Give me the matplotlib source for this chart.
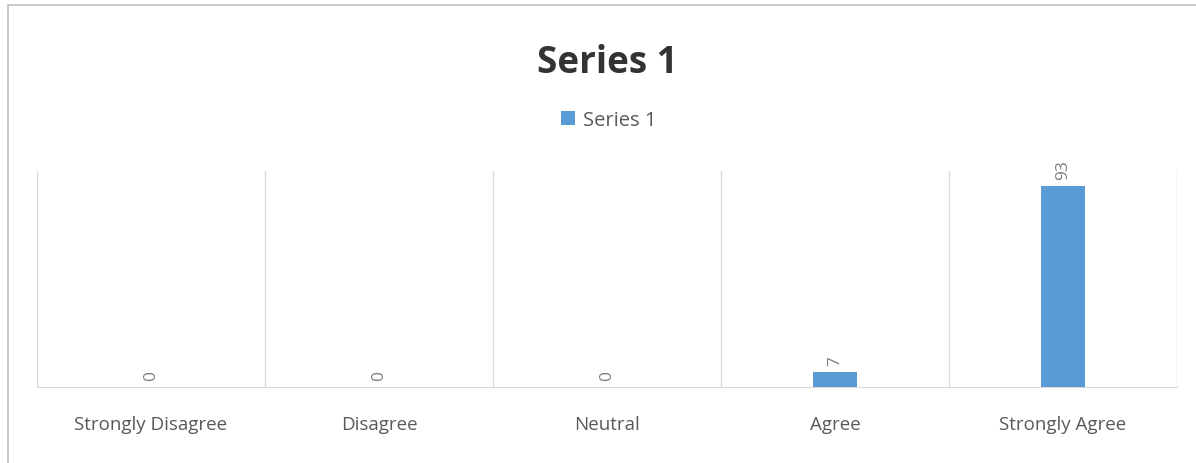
import numpy as np
import matplotlib.pyplot as plt
from matplotlib.patches import Rectangle

categories = ["Strongly Disagree", "Disagree", "Neutral", "Agree", "Strongly Agree"]
values = [0, 0, 0, 7, 93]
series_name = "Series 1"

bar_color = "#5B9BD5"
grid_color = "#D9D9D9"
text_color = "#595959"

plt.rcParams['font.family'] = ['Open Sans', 'DejaVu Sans']

fig = plt.figure(figsize=(11.96, 4.64), dpi=100)
# chart border (only top/left visible, crop cuts the rest)
fig.patches.append(Rectangle((8/1196, -0.05), 1.2, 1 - 6/464 + 0.05, transform=fig.transFigure,
                             fill=False, edgecolor="#BFBFBF", linewidth=1.2))

ax = fig.add_axes([37/1196, 1 - 388/464, (1177 - 37)/1196, (388 - 172)/464])
x = np.arange(len(categories))
bars = ax.bar(x, values, width=0.19, color=bar_color, label=series_name, zorder=3)

ax.set_xlim(-0.5, len(categories) - 0.5)
ax.set_ylim(0, 100)
for b in np.arange(-0.5, len(categories), 1.0):
    ax.axvline(b, color=grid_color, linewidth=1, zorder=1)
for s in ["top", "left", "right"]:
    ax.spines[s].set_visible(False)
ax.spines["bottom"].set_color(grid_color)
ax.set_yticks([])
ax.set_xticks(x)
ax.set_xticklabels(categories, fontsize=13.5, color=text_color)
ax.tick_params(axis="x", length=0, pad=20)

for xi, v in zip(x, values):
    ax.annotate(str(v), (xi, v), xytext=(0, 5), textcoords="offset points",
                rotation=90, ha="center", va="bottom", fontsize=12.5, color="#7F7F7F")

fig.text(607/1196, 1 - 63/464, series_name, ha="center", va="center", fontsize=26.5,
         fontweight="bold", color="#333333")
fig.legend(loc="center", bbox_to_anchor=(609/1196, 1 - 121/464), frameon=False, fontsize=14.5,
           handlelength=0.7, handleheight=0.7, handletextpad=0.4, labelcolor=text_color)

fig.savefig("out.png", dpi=100)
